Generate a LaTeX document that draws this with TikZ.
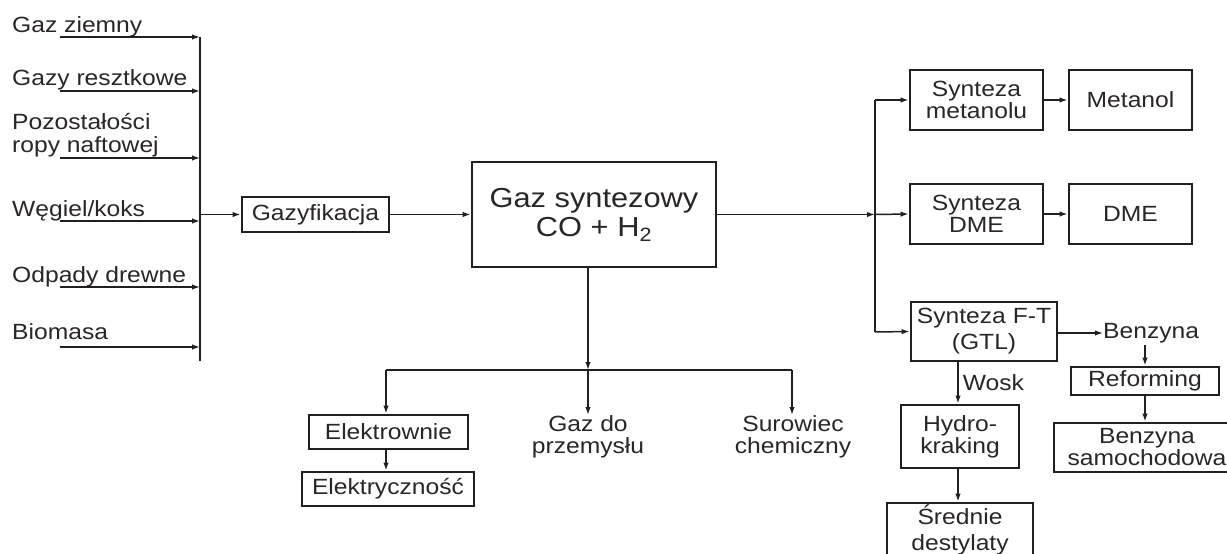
\documentclass[tikz,border=0pt]{standalone}
\usepackage{fontspec}
\setmainfont{Liberation Sans}[FakeStretch=1.12]
\usetikzlibrary{arrows.meta}
\definecolor{ink}{HTML}{231F20}
\definecolor{txt}{HTML}{2A2627}
\begin{document}
\begin{tikzpicture}[x=1pt,y=-1pt,
  conn/.style={draw=ink, line width=1.5pt},
  arr/.style={conn, -{Latex[length=8pt,width=5.5pt]}},
  box/.style={draw=ink, line width=2.8pt, inner sep=0pt, align=center, text=txt,
    font=\fontsize{22}{22}\selectfont},
  lab/.style={inner sep=0pt, text=txt, font=\fontsize{22}{22}\selectfont},
  big/.style={draw=ink, line width=2.8pt, inner sep=0pt, align=center, text=txt,
    font=\fontsize{27.5}{29}\selectfont}]
\useasboundingbox (0,0) rectangle (1227,554);
\fill[white] (0,0) rectangle (1227,554);
\clip (0,0) rectangle (1227,554);

% ---------- inputs ----------
\node[lab, anchor=base west] (in1) at (12,32) {Gaz ziemny};
\node[lab, anchor=base west] (in2) at (12,85) {Gazy resztkowe};
\node[lab, anchor=base west] (in3a) at (12,129) {Pozostałości};
\node[lab, anchor=base west] (in3b) at (12,152) {ropy naftowej};
\node[lab, anchor=base west] (in4) at (12,216) {Węgiel/koks};
\node[lab, anchor=base west] (in5) at (12,282) {Odpady drewne};
\node[lab, anchor=base west] (in6) at (12,339) {Biomasa};

\coordinate (s1) at (60,37);  \coordinate (b1) at (200,37);
\coordinate (s2) at (60,91);  \coordinate (b2) at (200,91);
\coordinate (s3) at (60,158); \coordinate (b3) at (200,158);
\coordinate (s4) at (60,221); \coordinate (b4) at (200,221);
\coordinate (s5) at (60,287); \coordinate (b5) at (200,287);
\coordinate (s6) at (60,347); \coordinate (b6) at (200,347);
\coordinate (bbot) at (200,361);
\coordinate (bmid) at (200,214.5);

\draw[conn] (b1) -- (bbot);
\foreach \i in {1,...,6} {\draw[arr] (s\i) -- (b\i);}

% ---------- main line ----------
\node[box, minimum width=147pt, minimum height=35pt] (gzf) at (315.5,214.5) {Gazyfikacja};
\node[big, minimum width=244pt, minimum height=105pt] (gs) at (594,214.5)
  {Gaz syntezowy\\CO + H\textsubscript{2}};
\draw[arr] (bmid) -- (gzf.west);
\draw[arr] (gzf.east) -- (gs.west);

% ---------- right branch ----------
\coordinate (rtop) at (875,100);
\coordinate (rmid) at (875,214.5);
\coordinate (rbot) at (875,332);
\draw[arr] (gs.east) -- (rmid);
\draw[conn] (rtop) -- (rbot);

\node[box, minimum width=133pt, minimum height=60pt] (sm) at (976.5,100) {Synteza\\metanolu};
\node[box, minimum width=123pt, minimum height=60pt] (me) at (1130.5,100) {Metanol};
\node[box, minimum width=133pt, minimum height=60pt] (sd) at (976.5,214) {Synteza\\DME};
\node[box, minimum width=123pt, minimum height=60pt] (dme) at (1130.5,214) {DME};
\node[box, minimum width=146pt, minimum height=59pt] (ft) at (984,331.5) {Synteza F-T\\[4pt](GTL)};

\draw[arr] (rtop) -- (sm.west);
\draw[arr] (rmid) -- (sd.west);
\draw[arr] (rbot) -- (ft.west);
\draw[arr] (sm.east) -- (me.west);
\draw[arr] (sd.east) -- (dme.west);

\node[lab, anchor=west] (bz) at (1103,333) {Benzyna};
\draw[arr] (ft.east |- bz.west) -- (bz.west);

\node[box, minimum width=148pt, minimum height=28pt] (ref) at (1145,381) {Reforming};
\node[box, minimum width=186pt, minimum height=49pt, text width=186pt] (bs) at (1147,447.5)
  {Benzyna\\samochodowa};
\draw[arr] (bz.south -| ref.north) ++(0,2) coordinate (bzs) (bzs) -- (ref.north);
\draw[arr] (ref.south) -- (ref.south |- bs.north);

\coordinate (ftb) at (958,361);
\node[box, minimum width=118pt, minimum height=63pt] (hk) at (960,436.5) {Hydro-\\kraking};
\draw[arr] (ftb) -- (ftb |- hk.north) node[lab, pos=0.5, anchor=west, xshift=4pt] (wosk) {Wosk};
\node[box, minimum width=146pt, minimum height=54pt] (sr) at (960,530) {Średnie\\[4pt]destylaty};
\draw[arr] (hk.south -| ftb) -- (sr.north -| ftb);

% ---------- bottom branch ----------
\coordinate (gsb) at (588,267);
\coordinate (hb) at (588,370);
\coordinate (hl) at (386,370);
\coordinate (hr) at (792,370);
\draw[arr] (gsb) -- (hb);
\draw[conn] (hl) -- (hr);

\node[box, minimum width=159pt, minimum height=34pt] (el) at (388.5,432) {Elektrownie};
\node[box, minimum width=172pt, minimum height=34pt] (ec) at (388,489) {Elektryczność};
\node[lab, align=center, anchor=north] (gp) at (588,415) {Gaz do\\przemysłu};
\node[lab, align=center, anchor=north] (sc) at (793,415) {Surowiec\\chemiczny};

\draw[arr] (hl) -- (hl |- el.north);
\draw[arr] (hb) -- (gp.north);
\draw[arr] (hr) -- (sc.north -| hr);
\draw[arr] (el.south -| hl) -- (ec.north -| hl);
\end{tikzpicture}
\end{document}
